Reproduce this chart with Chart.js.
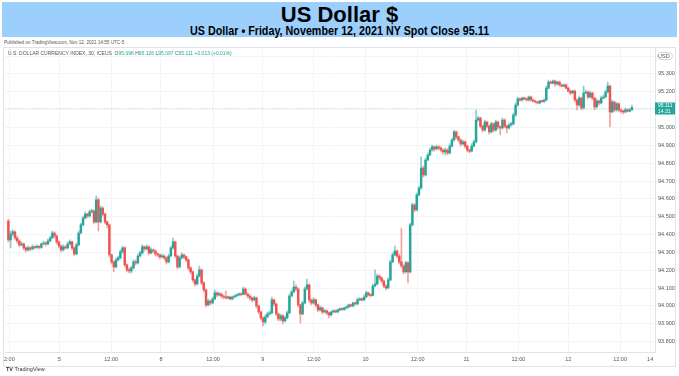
<!DOCTYPE html>
<html><head><meta charset="utf-8">
<script src="https://cdn.jsdelivr.net/npm/chart.js@4.4.1/dist/chart.umd.min.js"></script>
<style>
html,body{margin:0;padding:0;background:#fff;width:679px;height:376px;overflow:hidden;font-family:"Liberation Sans",Arial,sans-serif;}
#band{position:absolute;left:2px;top:2px;width:675px;height:35px;background:#9dcffd;}
#t1{position:absolute;left:0;width:679px;top:3px;text-align:center;font-weight:bold;font-size:22px;line-height:24px;color:#000;}
#t2{position:absolute;left:0;width:679px;top:25px;text-align:center;font-weight:bold;font-size:12.5px;line-height:13px;color:#000;transform:scaleX(0.86);transform-origin:340px 0;}
#pub{position:absolute;left:4px;top:40px;font-size:4.6px;color:#555;white-space:nowrap;}
#wrap{position:absolute;left:0;top:38px;width:679px;height:338px;}
#leg{position:absolute;left:8px;top:50px;font-size:5px;color:#555;white-space:nowrap;}
#leg .v{color:#26a69a;}
#tv{position:absolute;left:6px;top:366px;font-size:5.5px;color:#333;white-space:nowrap;}
</style></head>
<body>
<div id="band"></div>
<div id="t1">US Dollar $</div>
<div id="t2">US Dollar • Friday, November 12, 2021 NY Spot Close 95.11</div>
<div id="pub">Published on TradingView.com, Nov 12, 2021 14:55 UTC-5</div>
<div id="wrap"><canvas id="c" width="679" height="338"></canvas></div>
<div id="leg">U.S. DOLLAR CURRENCY INDEX, 30, ICEUS &nbsp;O<span class="v">95.098</span> H<span class="v">95.126</span> L<span class="v">95.097</span> C<span class="v">95.111</span> <span class="v">+0.013 (+0.01%)</span></div>
<div id="tv"><b>TV</b> TradingView</div>
<script>
const opens = [
94.476,94.370,94.403,94.415,94.381,94.364,94.342,94.347,94.325,94.314,
94.325,94.319,94.331,94.328,94.333,94.328,94.347,94.353,94.347,94.364,
94.381,94.409,94.392,94.359,94.336,94.314,94.331,94.325,94.347,94.359,
94.325,94.291,94.342,94.409,94.454,94.493,94.515,94.504,94.527,94.532,
94.471,94.594,94.471,94.549,94.515,94.471,94.454,94.286,94.247,94.219,
94.258,94.269,94.303,94.325,94.230,94.202,94.196,94.213,94.247,94.241,
94.280,94.297,94.331,94.319,94.331,94.297,94.314,94.308,94.291,94.286,
94.275,94.280,94.269,94.247,94.280,94.325,94.359,94.280,94.219,94.269,
94.286,94.275,94.258,94.213,94.191,94.146,94.123,94.168,94.202,94.129,
94.090,94.006,94.028,94.017,94.039,94.073,94.062,94.067,94.056,94.050,
94.045,94.050,94.039,94.050,94.056,94.062,94.067,94.064,94.095,94.067,
94.056,94.045,94.034,94.045,94.000,93.966,93.933,93.910,93.938,93.955,
93.961,94.034,94.011,93.955,93.927,93.944,93.916,93.933,93.961,94.056,
94.078,94.106,94.095,94.006,93.955,94.017,94.095,94.118,94.034,94.017,
94.034,94.006,93.978,93.989,93.966,93.972,93.961,93.950,93.966,93.972,
93.966,93.978,93.983,93.980,93.989,93.994,94.006,94.000,94.017,94.011,
94.034,94.039,94.034,94.050,94.073,94.062,94.059,94.112,94.123,94.168,
94.157,94.140,94.112,94.101,94.146,94.247,94.286,94.308,94.280,94.247,
94.224,94.191,94.241,94.191,94.454,94.566,94.538,94.622,94.661,94.773,
94.734,94.818,94.846,94.874,94.891,94.880,94.891,94.885,94.874,94.863,
94.874,94.857,94.896,94.930,94.975,94.947,94.930,94.908,94.919,94.896,
94.874,94.868,94.896,94.919,95.042,95.053,95.008,94.986,95.031,95.008,
94.975,95.020,94.986,95.031,95.003,94.997,95.042,95.008,94.997,95.014,
95.020,95.070,95.126,95.160,95.154,95.165,95.160,95.154,95.171,95.154,
95.148,95.143,95.137,95.148,95.146,95.154,95.221,95.255,95.249,95.260,
95.244,95.255,95.238,95.232,95.238,95.221,95.204,95.193,95.204,95.154,
95.126,95.165,95.109,95.193,95.199,95.171,95.193,95.165,95.115,95.148,
95.137,95.165,95.171,95.199,95.232,95.087,95.143,95.098,95.132,95.098,
95.092,95.087,95.099,95.092,95.098];
const highs = [
94.487,94.420,94.426,94.420,94.392,94.370,94.359,94.353,94.331,94.336,
94.331,94.342,94.336,94.342,94.339,94.353,94.364,94.359,94.375,94.392,
94.420,94.415,94.398,94.364,94.342,94.342,94.339,94.359,94.370,94.364,
94.331,94.353,94.420,94.465,94.504,94.527,94.521,94.538,94.543,94.538,
94.616,94.605,94.560,94.555,94.521,94.476,94.459,94.291,94.252,94.269,
94.280,94.314,94.336,94.331,94.235,94.213,94.224,94.258,94.258,94.291,
94.308,94.342,94.336,94.342,94.336,94.325,94.319,94.314,94.297,94.291,
94.291,94.286,94.275,94.291,94.336,94.381,94.364,94.286,94.280,94.297,
94.291,94.280,94.263,94.219,94.196,94.151,94.179,94.224,94.207,94.135,
94.095,94.039,94.034,94.050,94.090,94.078,94.078,94.073,94.062,94.084,
94.056,94.056,94.056,94.062,94.067,94.073,94.073,94.106,94.101,94.073,
94.062,94.050,94.056,94.050,94.006,93.972,93.938,93.950,93.966,93.972,
94.050,94.039,94.017,93.961,93.955,93.950,93.944,93.972,94.067,94.090,
94.140,94.118,94.101,94.011,94.028,94.106,94.151,94.123,94.039,94.045,
94.039,94.011,94.000,93.994,93.983,93.978,93.966,93.972,93.978,93.978,
93.983,93.989,93.989,93.994,94.000,94.011,94.011,94.022,94.022,94.045,
94.045,94.045,94.062,94.084,94.078,94.067,94.123,94.202,94.179,94.174,
94.162,94.146,94.118,94.157,94.258,94.297,94.336,94.314,94.291,94.437,
94.230,94.252,94.247,94.465,94.577,94.572,94.633,94.672,94.835,94.784,
94.829,94.857,94.885,94.902,94.896,94.902,94.896,94.891,94.880,94.885,
94.880,94.908,94.941,94.986,94.980,94.952,94.936,94.930,94.924,94.902,
94.880,94.908,94.930,95.098,95.064,95.059,95.014,95.042,95.036,95.014,
95.031,95.025,95.042,95.036,95.008,95.053,95.048,95.014,95.025,95.031,
95.081,95.137,95.171,95.165,95.171,95.171,95.165,95.176,95.176,95.160,
95.154,95.148,95.154,95.152,95.160,95.232,95.266,95.260,95.266,95.266,
95.260,95.260,95.244,95.244,95.244,95.227,95.210,95.210,95.210,95.160,
95.176,95.171,95.232,95.210,95.204,95.204,95.199,95.171,95.160,95.154,
95.176,95.182,95.210,95.255,95.238,95.154,95.148,95.143,95.137,95.104,
95.098,95.109,95.104,95.109,95.126];
const lows = [
94.359,94.325,94.392,94.370,94.353,94.331,94.336,94.314,94.303,94.308,
94.308,94.314,94.319,94.322,94.319,94.322,94.342,94.336,94.342,94.359,
94.375,94.381,94.347,94.325,94.303,94.308,94.319,94.319,94.342,94.314,
94.280,94.286,94.336,94.403,94.448,94.487,94.493,94.498,94.521,94.459,
94.465,94.420,94.465,94.504,94.459,94.437,94.275,94.235,94.191,94.213,
94.252,94.263,94.297,94.219,94.191,94.185,94.185,94.207,94.230,94.235,
94.275,94.291,94.308,94.314,94.286,94.291,94.297,94.280,94.275,94.263,
94.269,94.258,94.235,94.241,94.275,94.319,94.269,94.207,94.213,94.263,
94.263,94.247,94.202,94.179,94.135,94.112,94.118,94.162,94.118,94.078,
93.994,94.000,94.006,94.011,94.034,94.050,94.056,94.045,94.039,94.039,
94.039,94.034,94.034,94.045,94.050,94.056,94.056,94.062,94.062,94.045,
94.034,94.022,94.028,93.989,93.955,93.922,93.888,93.899,93.933,93.950,
93.955,94.000,93.944,93.916,93.916,93.899,93.910,93.927,93.955,94.050,
94.073,94.084,93.994,93.905,93.950,94.011,94.090,94.022,94.006,94.011,
93.994,93.966,93.972,93.955,93.961,93.950,93.933,93.944,93.961,93.961,
93.961,93.972,93.975,93.975,93.983,93.989,93.994,93.994,94.006,94.006,
94.028,94.028,94.028,94.045,94.056,94.050,94.056,94.106,94.118,94.146,
94.129,94.101,94.090,94.095,94.140,94.241,94.280,94.269,94.235,94.213,
94.179,94.185,94.129,94.185,94.448,94.527,94.532,94.616,94.655,94.723,
94.728,94.812,94.840,94.868,94.868,94.874,94.874,94.863,94.851,94.846,
94.846,94.851,94.891,94.924,94.936,94.919,94.896,94.902,94.885,94.863,
94.857,94.863,94.891,94.913,95.036,94.997,94.975,94.980,94.997,94.963,
94.969,94.975,94.980,94.991,94.958,94.991,94.997,94.969,94.991,95.008,
95.014,95.064,95.120,95.148,95.148,95.154,95.148,95.148,95.148,95.143,
95.137,95.132,95.132,95.140,95.140,95.148,95.216,95.244,95.244,95.232,
95.238,95.232,95.227,95.227,95.216,95.199,95.182,95.188,95.143,95.098,
95.120,95.098,95.104,95.188,95.160,95.165,95.154,95.098,95.109,95.126,
95.132,95.160,95.165,95.193,95.003,95.081,95.087,95.092,95.087,95.081,
95.076,95.081,95.087,95.087,95.097];
const closes = [
94.370,94.403,94.415,94.381,94.364,94.342,94.347,94.325,94.314,94.325,
94.319,94.331,94.328,94.333,94.328,94.347,94.353,94.347,94.364,94.381,
94.409,94.392,94.359,94.336,94.314,94.331,94.325,94.347,94.359,94.325,
94.291,94.342,94.409,94.454,94.493,94.515,94.504,94.527,94.532,94.471,
94.594,94.471,94.549,94.515,94.471,94.454,94.286,94.247,94.219,94.258,
94.269,94.303,94.325,94.230,94.202,94.196,94.213,94.247,94.241,94.280,
94.297,94.331,94.319,94.331,94.297,94.314,94.308,94.291,94.286,94.275,
94.280,94.269,94.247,94.280,94.325,94.359,94.280,94.219,94.269,94.286,
94.275,94.258,94.213,94.191,94.146,94.123,94.168,94.202,94.129,94.090,
94.006,94.028,94.017,94.039,94.073,94.062,94.067,94.056,94.050,94.045,
94.050,94.039,94.050,94.056,94.062,94.067,94.064,94.095,94.067,94.056,
94.045,94.034,94.045,94.000,93.966,93.933,93.910,93.938,93.955,93.961,
94.034,94.011,93.955,93.927,93.944,93.916,93.933,93.961,94.056,94.078,
94.106,94.095,94.006,93.955,94.017,94.095,94.118,94.034,94.017,94.034,
94.006,93.978,93.989,93.966,93.972,93.961,93.950,93.966,93.972,93.966,
93.978,93.983,93.980,93.989,93.994,94.006,94.000,94.017,94.011,94.034,
94.039,94.034,94.050,94.073,94.062,94.059,94.112,94.123,94.168,94.157,
94.140,94.112,94.101,94.146,94.247,94.286,94.308,94.280,94.247,94.224,
94.191,94.241,94.191,94.454,94.566,94.538,94.622,94.661,94.773,94.734,
94.818,94.846,94.874,94.891,94.880,94.891,94.885,94.874,94.863,94.874,
94.857,94.896,94.930,94.975,94.947,94.930,94.908,94.919,94.896,94.874,
94.868,94.896,94.919,95.042,95.053,95.008,94.986,95.031,95.008,94.975,
95.020,94.986,95.031,95.003,94.997,95.042,95.008,94.997,95.014,95.020,
95.070,95.126,95.160,95.154,95.165,95.160,95.154,95.171,95.154,95.148,
95.143,95.137,95.148,95.146,95.154,95.221,95.255,95.249,95.260,95.244,
95.255,95.238,95.232,95.238,95.221,95.204,95.193,95.204,95.154,95.126,
95.165,95.109,95.193,95.199,95.171,95.193,95.165,95.115,95.148,95.137,
95.165,95.171,95.199,95.232,95.087,95.143,95.098,95.132,95.098,95.092,
95.087,95.099,95.092,95.098,95.111];

// time-axis ticks (bar index of each label) and their labels
const xTickIndex = [0.45, 23.2, 46.8, 69.5, 93.2, 115.9, 139.1, 162.7, 186.4, 208.6, 232.3, 255, 278.6, 292.3];
const xTickLabels = ["2:00", "5", "12:00", "8", "12:00", "9", "12:00", "10", "12:00", "11", "12:00", "12", "12:00", "14"];
const yTickValues = [93.8, 93.9, 94.0, 94.1, 94.2, 94.3, 94.4, 94.5, 94.6, 94.7, 94.8, 94.9, 95.0, 95.1, 95.2, 95.3, 95.4];
const lastPrice = 95.111;
const lastTime = "14:31";

const UP = '#26a69a', DN = '#ef5350';
const UPW = 'rgba(38,166,154,0.55)', DNW = 'rgba(239,83,80,0.55)';
const isUp = i => closes[i] >= opens[i];

const wickData = opens.map((o, i) => ({x: i, y: [lows[i], highs[i]]}));
const bodyData = opens.map((o, i) => ({x: i, y: [o, closes[i]]}));

const decor = {
  id: 'decor',
  afterDraw(chart) {
    const {ctx, chartArea: a, scales: {y}} = chart;
    ctx.save();
    ctx.strokeStyle = '#e0e3eb';
    ctx.lineWidth = 1;
    ctx.strokeRect(3.5, 9.5, 672, 319);
    const py = Math.round(y.getPixelForValue(lastPrice)) + 0.5;
    ctx.strokeStyle = 'rgba(38,166,154,0.45)';
    ctx.setLineDash([1, 2]);
    ctx.beginPath(); ctx.moveTo(a.left, py); ctx.lineTo(a.right, py); ctx.stroke();
    ctx.setLineDash([]);
    ctx.fillStyle = UP;
    ctx.fillRect(a.right, py - 6, 20, 12);
    ctx.fillStyle = '#fff';
    ctx.font = '5px "Liberation Sans", Arial, sans-serif';
    ctx.textAlign = 'left'; ctx.textBaseline = 'middle';
    ctx.fillText(lastPrice.toFixed(3), a.right + 3, py - 2.5);
    ctx.fillText(lastTime, a.right + 3, py + 3);
    const uy = y.getPixelForValue(95.4);
    ctx.strokeStyle = '#d0d3db';
    ctx.beginPath();
    if (ctx.roundRect) ctx.roundRect(a.right + 2.5, uy - 3.5, 15, 7, 3.5); else ctx.rect(a.right + 2.5, uy - 3.5, 15, 7);
    ctx.stroke();
    ctx.restore();
  }
};

new Chart(document.getElementById('c'), {
  type: 'bar',
  data: {
    datasets: [
      {data: wickData, barThickness: 1, grouped: false, order: 2,
       backgroundColor: c => isUp(c.dataIndex) ? UPW : DNW, borderWidth: 0},
      {data: bodyData, barThickness: 1.8, grouped: false, order: 1, minBarLength: 1,
       backgroundColor: c => isUp(c.dataIndex) ? UP : DN, borderWidth: 0}
    ]
  },
  options: {
    responsive: false,
    animation: false,
    events: [],
    layout: {padding: {top: 9, left: 4, right: 3, bottom: 10}},
    plugins: {legend: {display: false}, tooltip: {enabled: false}},
    scales: {
      x: {
        type: 'linear', offset: false, min: -1.36, max: 294.5,
        grid: {offset: false, color: '#f3f4f7', drawTicks: false},
        border: {color: '#e0e3eb'},
        afterBuildTicks: s => { s.ticks = xTickIndex.map(v => ({value: v})); },
        afterFit: s => { s.height = 14; },
        ticks: {
          autoSkip: false, maxRotation: 0, padding: 4,
          font: {size: 5.5, family: '"Liberation Sans", Arial, sans-serif'}, color: '#555',
          callback: (v, i) => xTickLabels[i]
        }
      },
      y: {
        position: 'right', beginAtZero: false, min: 93.742, max: 95.451,
        grid: {color: '#f3f4f7', drawTicks: false},
        border: {color: '#e0e3eb'},
        afterBuildTicks: s => { s.ticks = yTickValues.map(v => ({value: v})); },
        afterFit: s => { s.width = 21; },
        ticks: {
          padding: 3,
          font: {size: 5.5, family: '"Liberation Sans", Arial, sans-serif'}, color: '#555',
          callback: v => v === 95.4 ? 'USD' : v.toFixed(3)
        }
      }
    }
  },
  plugins: [decor]
});
</script>
</body></html>
